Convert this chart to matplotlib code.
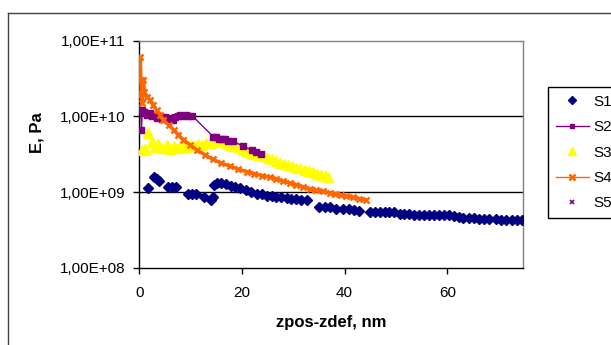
import math
import matplotlib
matplotlib.use('Agg')
import matplotlib.pyplot as plt
from matplotlib.lines import Line2D
from matplotlib.ticker import FixedLocator, FuncFormatter, NullLocator

plt.rcParams['font.family'] = ['Liberation Sans', 'DejaVu Sans']

# === Data (E in GPa) ===
s1_x = [1.6, 2.9, 3.5, 3.9, 5.5, 6.3, 7.1, 9.4, 10.2, 11.0, 12.6, 14.0, 14.3, 14.5,
        15.2, 15.9, 16.8, 17.8, 18.7, 19.7, 20.7, 21.7, 22.9, 23.9, 24.8, 25.8, 26.7,
        27.7, 28.7, 29.6, 30.6, 31.6, 32.6, 35.1, 36.1, 37.1, 38.4, 39.7, 40.9, 41.9,
        42.9, 44.9, 45.9, 46.8, 47.8, 48.7, 49.7, 50.7, 51.6, 52.6, 53.6, 54.5, 55.5,
        56.5, 57.5, 58.4, 59.4, 60.4, 61.4, 62.3, 63.0, 64.2, 65.2, 66.2, 67.2, 68.1,
        69.5, 70.4, 71.4, 72.7, 73.6, 74.6]
s1_e = [1.12, 1.58, 1.48, 1.41, 1.15, 1.17, 1.17, 0.93, 0.95, 0.93, 0.85, 0.79, 0.85, 1.23,
        1.32, 1.32, 1.26, 1.20, 1.15, 1.12, 1.05, 1.00, 0.95, 0.93, 0.89, 0.89, 0.87,
        0.85, 0.83, 0.81, 0.81, 0.79, 0.78, 0.63, 0.63, 0.63, 0.60, 0.59, 0.59, 0.58,
        0.56, 0.55, 0.55, 0.55, 0.55, 0.55, 0.54, 0.52, 0.51, 0.51, 0.50, 0.50, 0.49,
        0.49, 0.49, 0.49, 0.49, 0.49, 0.48, 0.47, 0.46, 0.45, 0.45, 0.44, 0.44, 0.44,
        0.44, 0.43, 0.43, 0.43, 0.43, 0.43]

s2_x = [0.2, 0.4, 0.6, 1.0, 1.5, 2.0, 2.5, 3.0, 3.5, 4.0, 4.5, 5.0, 5.5, 6.0, 6.5, 7.0,
        7.5, 8.0, 8.5, 9.0, 9.5, 10.3, 14.4, 15.0, 15.6, 16.2, 16.7, 17.3, 18.3, 20.3,
        21.9, 22.8, 23.8]
s2_e = [20, 6.6, 12, 11.5, 10.5, 11, 10, 10.5, 9.5, 10, 9.3, 9.8, 9.2, 9.6, 9.0, 9.8,
        10.2, 10.5, 10.2, 10.5, 10.2, 10.2, 5.4, 5.3, 5.1, 5.0, 5.0, 4.8, 4.7, 4.0,
        3.6, 3.4, 3.2]

s3_x = [0.5, 1.2, 1.75, 2.5, 3.0, 3.7, 4.5, 5.3, 6.0, 6.8, 7.5, 8.3, 9.0, 9.8, 10.6,
        11.4, 12.2, 13.0, 13.8, 14.6, 15.4, 16.2, 17.0, 17.8, 18.6, 19.4, 20.2, 21.0,
        21.8, 22.6, 23.4, 24.2, 25.0, 25.8, 26.6, 27.4, 28.2, 29.0, 29.8, 30.6, 31.4,
        32.2, 33.0, 33.8, 34.6, 35.4, 36.2, 36.8]
s3_e = [3.6, 3.7, 6.0, 4.6, 3.9, 4.3, 3.8, 4.2, 3.7, 4.0, 3.8, 4.1, 3.9, 4.2, 4.0,
        4.3, 4.2, 4.4, 4.5, 4.6, 4.7, 4.6, 4.4, 4.2, 4.0, 3.9, 3.7, 3.5,
        3.3, 3.2, 3.1, 3.0, 2.85, 2.75, 2.6, 2.45, 2.35, 2.3, 2.2, 2.1, 2.05,
        1.95, 1.9, 1.85, 1.75, 1.7, 1.65, 1.58]

s4_x = [0.2, 0.3, 0.4, 0.5, 0.8, 1.0, 1.5, 2.1, 2.7, 3.4, 4.0, 4.7, 5.7, 6.7, 7.6, 8.6,
        9.9, 11.2, 12.8, 14.4, 16.0, 17.7, 19.3, 20.9, 22.4, 23.9, 25.4, 26.7, 28.0,
        29.3, 30.6, 31.9, 33.2, 34.5, 35.8, 37.1, 38.2, 39.3, 40.3, 41.6, 42.9, 44.2]
s4_e = [60, 30, 20, 15, 30, 21, 18, 16.6, 14, 12, 10.5, 8.9, 7.7, 6.6, 5.7, 4.9,
        4.2, 3.6, 3.1, 2.7, 2.4, 2.2, 2.0, 1.86, 1.75, 1.65, 1.58, 1.48, 1.40,
        1.32, 1.25, 1.17, 1.10, 1.05, 1.02, 0.98, 0.95, 0.92, 0.89, 0.85, 0.82, 0.79]

s5_x = [0.3, 0.5]
s5_e = [18, 21]

labels = ['S1', 'S2', 'S3', 'S4', 'S5']
y_ticks = [1e8, 1e9, 1e10, 1e11]
x_ticks = [0, 20, 40, 60]

# === Figure ===
fig = plt.figure(figsize=(6.11, 3.45), dpi=100)
ax = fig.add_axes([0.228, 0.224, 0.6275, 0.658])

gpa = 1e9
ax.plot(s1_x, [v * gpa for v in s1_e], ls='none', marker='D', ms=5.5, color='#000080',
        label=labels[0], zorder=3)
ax.plot(s2_x, [v * gpa for v in s2_e], ls='-', lw=1, marker='s', ms=4, color='#800080',
        label=labels[1], zorder=4)
ax.plot(s3_x, [v * gpa for v in s3_e], ls='none', marker='^', ms=7, color='#FFFF00',
        label=labels[2], zorder=3)
ax.plot(s4_x, [v * gpa for v in s4_e], ls='-', lw=2.5, marker='x', ms=5, mew=1.8,
        color='#FF6600', label=labels[3], zorder=5)
ax.plot(s5_x, [v * gpa for v in s5_e], ls='none', marker='x', ms=3.5, mew=1.2,
        color='#800080', label=labels[4], zorder=4)

# === Axes ===
ax.set_yscale('log')
ax.set_ylim(1e8, 1e11)
ax.set_xlim(0, 74.7)
ax.yaxis.set_major_locator(FixedLocator(y_ticks))
ax.yaxis.set_minor_locator(NullLocator())
ax.yaxis.set_major_formatter(FuncFormatter(lambda v, p: '1,00E+%02d' % round(math.log10(v))))
ax.set_xticks(x_ticks)
ax.tick_params(axis='both', direction='out', length=4, width=1, color='black',
               labelsize=11)
ax.tick_params(axis='y', pad=6)
ax.tick_params(axis='x', pad=9)

for v in [1e9, 1e10]:
    ax.axhline(v, color='black', lw=1, zorder=1)

ax.spines['left'].set_color('black')
ax.spines['bottom'].set_color('black')
ax.spines['top'].set_color('#808080')
ax.spines['right'].set_color('#808080')
for s in ax.spines.values():
    s.set_linewidth(1)

fig.text(37 / 611, 1 - 133 / 345, 'E, Pa', rotation=90, ha='center', va='center',
         fontsize=12, fontweight='bold')
fig.text(331 / 611, 1 - 322 / 345, 'zpos-zdef, nm', ha='center', va='center',
         fontsize=12, fontweight='bold')

# === Legend ===
leg = ax.legend(loc='upper left', bbox_to_anchor=(548 / 611, 1 - 87 / 345),
                bbox_transform=fig.transFigure, fontsize=11, frameon=True,
                fancybox=False, edgecolor='black', framealpha=1, borderpad=0.5,
                labelspacing=0.75, handlelength=2.2, handletextpad=0.3,
                borderaxespad=0, markerscale=0.8)
leg.get_frame().set_linewidth(1)
for h in leg.get_lines():
    h.set_linewidth(1)

# === Chart area border ===
fig.add_artist(Line2D([8 / 611, 8 / 611], [0, 1 - 13 / 345], transform=fig.transFigure,
                      color='#404040', lw=1))
fig.add_artist(Line2D([8 / 611, 1], [1 - 13 / 345, 1 - 13 / 345],
                      transform=fig.transFigure, color='#404040', lw=1))

fig.savefig('out.png', dpi=100)
